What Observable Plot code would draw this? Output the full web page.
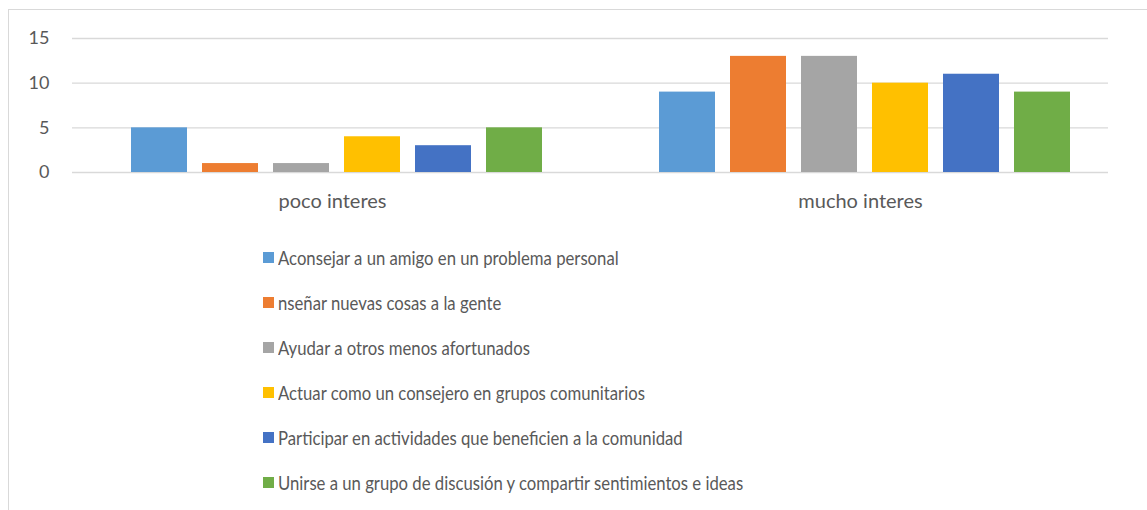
<!DOCTYPE html>
<html>
<head>
<meta charset="utf-8">
<script src="https://cdn.jsdelivr.net/npm/d3@7"></script>
<script src="https://cdn.jsdelivr.net/npm/@observablehq/plot@0.6"></script>
<style>
  html, body { margin: 0; padding: 0; background: #fff; overflow: hidden; width: 1147px; height: 510px; }
  #frame { position: absolute; left: 8px; top: 9px; width: 1160px; height: 520px; border: 1px solid #d9d9d9; box-sizing: border-box; }
  #grid, #chart { position: absolute; left: 0; top: 0; }
  #legend { position: absolute; left: 0; top: 0; font-family: Lato, "Open Sans", sans-serif; color: #595959; }
  .item { position: absolute; display: flex; align-items: center; white-space: nowrap; font-size: 20px; }
  .sw { width: 11px; height: 11px; margin-right: 4px; flex: none; }
  .txt { display: inline-block; transform: scaleX(0.835); transform-origin: left center; }
</style>
</head>
<body>
<div id="frame"></div>
<div id="grid"></div>
<div id="chart"></div>
<div id="legend"></div>
<script>
const categories = ["poco interes", "mucho interes"];
const series = [
  "Aconsejar a un amigo en un problema personal",
  "nseñar nuevas cosas a la gente",
  "Ayudar a otros menos afortunados",
  "Actuar como un consejero en grupos comunitarios",
  "Participar en actividades que beneficien a la comunidad",
  "Unirse a un grupo de discusión y compartir sentimientos e ideas"
];
const pocoInteres = [5, 1, 1, 4, 3, 5];
const muchoInteres = [9, 13, 13, 10, 11, 9];
const yTicks = [0, 5, 10, 15];
const colors = ["#5B9BD5", "#ED7D31", "#A5A5A5", "#FFC000", "#4472C4", "#70AD47"];

const rows = [];
[pocoInteres, muchoInteres].forEach((vals, ci) => {
  vals.forEach((v, si) => rows.push({cat: categories[ci], series: series[si], value: v}));
});

const common = {
  width: 1147,
  height: 230,
  marginLeft: 72,
  marginRight: 39,
  marginTop: 38,
  marginBottom: 58,
  style: {fontFamily: "Lato, 'Open Sans', sans-serif", color: "#595959", background: "transparent", overflow: "visible"},
  y: {domain: [0, 15], axis: null}
};

// gridlines and y axis (plot frame 72..1108)
const gridPlot = Plot.plot({
  ...common,
  marks: [
    Plot.gridY(yTicks, {stroke: "#d9d9d9", strokeOpacity: 1, strokeWidth: 1.4}),
    Plot.axisY(yTicks, {tickSize: 0, tickPadding: 23, fontSize: 18, label: null})
  ]
});
document.getElementById("grid").appendChild(gridPlot);

// grouped bars
const barPlot = Plot.plot({
  ...common,
  marginRight: 19,
  fx: {domain: categories, paddingInner: 0, paddingOuter: 0, label: null},
  x: {domain: series, paddingInner: 0.217, paddingOuter: 0.82, axis: null},
  color: {domain: series, range: colors},
  marks: [
    Plot.barY(rows, {fx: "cat", x: "series", y: "value", fill: "series"}),
    Plot.axisFx({anchor: "bottom", tickSize: 0, tickPadding: 21, fontSize: 20, dx: -4, label: null})
  ]
});
document.getElementById("chart").appendChild(barPlot);

const legend = document.getElementById("legend");
series.forEach((s, i) => {
  const d = document.createElement("div");
  d.className = "item";
  d.style.left = "263px";
  d.style.top = (257 + 45 * i - 13) + "px";
  d.style.height = "26px";
  const sw = document.createElement("span");
  sw.className = "sw";
  sw.style.background = colors[i];
  const t = document.createElement("span");
  t.className = "txt";
  t.textContent = s;
  d.appendChild(sw);
  d.appendChild(t);
  legend.appendChild(d);
});
</script>
</body>
</html>
